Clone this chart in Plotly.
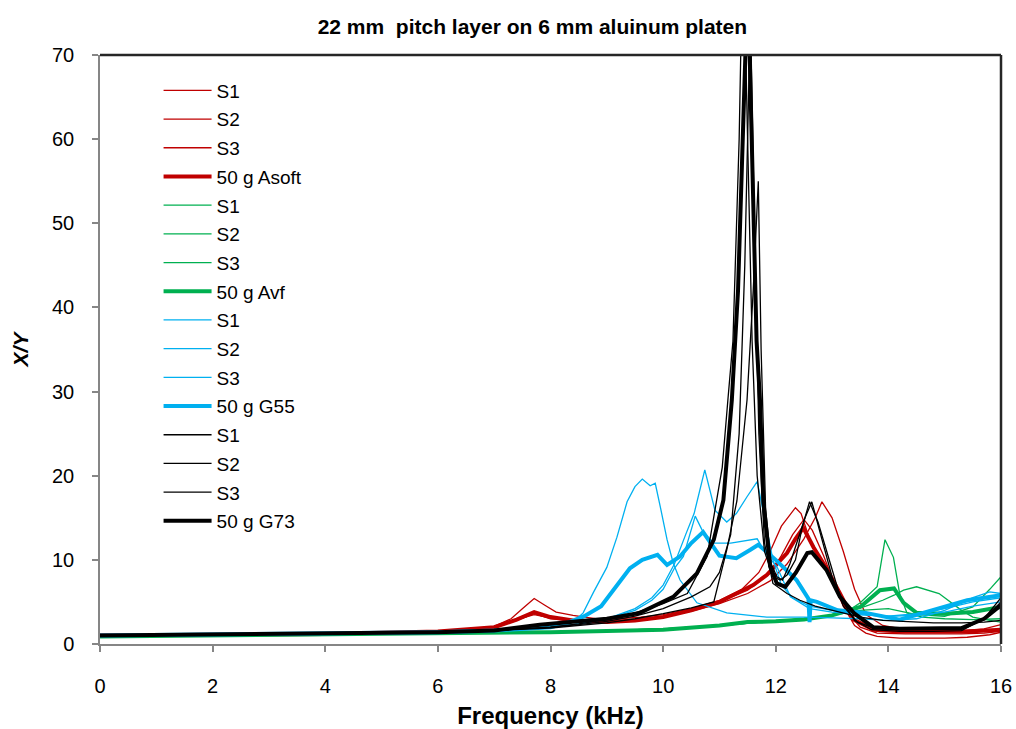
import plotly.graph_objects as go

# ---- Asoft (red) ----
asoft_s1_f = [0, 2, 4, 5, 6, 6.5, 7, 7.3, 7.5, 7.71, 7.9, 8.1, 8.4, 8.8, 9.2, 9.6, 10, 10.5, 11, 11.4, 11.7, 11.9, 12.1, 12.35, 12.45, 12.6, 12.8, 13.0, 13.2, 13.4, 13.6, 13.8, 14.2, 14.6, 15.0, 15.4, 15.8, 16]
asoft_s1_y = [1.0, 1.1, 1.2, 1.3, 1.5, 1.7, 2.1, 3.0, 4.2, 5.4, 4.6, 3.8, 3.4, 3.0, 3.0, 3.2, 3.5, 4.2, 5.2, 6.5, 8.5, 11.0, 14.0, 16.2, 15.5, 12.5, 10.0, 7.5, 4.5, 2.2, 1.3, 0.9, 0.7, 0.7, 0.7, 0.8, 1.1, 1.4]
asoft_s2_f = [0, 2, 4, 6, 6.5, 7, 7.4, 7.71, 8.0, 8.4, 9.0, 9.5, 10, 10.5, 11, 11.5, 11.9, 12.2, 12.5, 12.7, 12.82, 13.0, 13.2, 13.4, 13.6, 13.9, 14.3, 14.8, 15.3, 15.7, 16]
asoft_s2_y = [1.0, 1.1, 1.2, 1.5, 1.7, 2.0, 2.8, 3.6, 3.0, 2.8, 2.6, 2.8, 3.2, 3.9, 4.8, 6.0, 7.5, 9.5, 12.5, 15.0, 16.9, 15.0, 11.0, 6.5, 3.5, 2.2, 1.7, 1.6, 1.6, 1.8, 2.3]
asoft_s3_f = [0, 2, 4, 6, 6.5, 7, 7.4, 7.71, 8.0, 8.4, 9.0, 9.5, 10, 10.5, 11, 11.5, 11.9, 12.1, 12.3, 12.5, 12.65, 12.85, 13.05, 13.25, 13.5, 13.8, 14.3, 14.8, 15.3, 15.7, 16]
asoft_s3_y = [1.0, 1.1, 1.2, 1.5, 1.7, 2.0, 2.9, 3.5, 3.1, 2.8, 2.6, 2.8, 3.2, 4.0, 5.0, 6.4, 8.4, 10.5, 13.0, 14.8, 13.5, 10.5, 7.0, 4.0, 2.0, 1.3, 1.2, 1.2, 1.2, 1.3, 1.5]
asoft_avg_f = [0, 2, 4, 6, 6.5, 7, 7.4, 7.71, 8.0, 8.4, 9.0, 9.5, 10, 10.5, 11, 11.25, 11.6, 11.84, 12.0, 12.2, 12.35, 12.49, 12.67, 12.9, 13.14, 13.38, 13.74, 14.2, 14.8, 15.4, 16]
asoft_avg_y = [1.0, 1.1, 1.2, 1.5, 1.7, 2.0, 2.9, 3.8, 3.2, 2.8, 2.6, 2.8, 3.2, 4.0, 5.0, 5.8, 7.0, 8.2, 9.3, 10.8, 12.5, 13.8, 11.5, 9.0, 6.0, 2.9, 1.7, 1.5, 1.5, 1.5, 1.7]

# ---- Avf (green) ----
avf_s1_f = [0, 2, 4, 6, 7, 8, 9, 10, 11, 12, 12.5, 13, 13.3, 13.5, 13.8, 13.94, 14.09, 14.2, 14.33, 14.6, 15.0, 15.5, 16]
avf_s1_y = [0.9, 1.0, 1.1, 1.2, 1.3, 1.4, 1.6, 1.8, 2.2, 2.7, 3.0, 3.4, 4.0, 4.9, 6.8, 12.4, 10.3, 6.0, 3.7, 3.2, 3.0, 2.9, 3.0]
avf_s2_f = [0, 2, 4, 6, 7, 8, 9, 10, 11, 12, 12.5, 13, 13.3, 13.6, 13.9, 14.1, 14.27, 14.5, 14.9, 15.3, 15.5, 15.8, 16]
avf_s2_y = [0.9, 1.0, 1.1, 1.2, 1.3, 1.4, 1.6, 1.8, 2.2, 2.7, 3.0, 3.4, 3.9, 4.5, 5.2, 5.8, 6.4, 6.8, 6.0, 4.0, 3.2, 2.8, 2.6]
avf_s3_f = [0, 2, 4, 6, 7, 8, 9, 10, 11, 12, 12.5, 13, 13.5, 14.0, 14.5, 15.0, 15.5, 15.8, 16]
avf_s3_y = [0.9, 1.0, 1.1, 1.2, 1.3, 1.4, 1.6, 1.8, 2.2, 2.7, 3.0, 3.4, 4.0, 4.2, 3.5, 3.3, 4.4, 6.5, 8.0]
avf_avg_f = [0, 2, 4, 6, 7, 8, 9, 10, 11, 11.5, 12, 12.5, 13, 13.2, 13.5, 13.85, 14.1, 14.27, 14.5, 15.0, 15.5, 16]
avf_avg_y = [0.9, 1.0, 1.1, 1.2, 1.3, 1.4, 1.55, 1.7, 2.2, 2.6, 2.7, 2.9, 3.4, 3.8, 4.4, 6.4, 6.6, 4.9, 3.7, 3.6, 3.8, 4.4]

# ---- G55 (blue) ----
g55_s1_f = [0, 2, 4, 6, 7, 7.5, 8, 8.4, 8.58, 8.76, 9.0, 9.18, 9.36, 9.5, 9.63, 9.77, 9.86, 9.95, 10.07, 10.18, 10.3, 10.6, 11.13, 11.84, 12.5, 13.0, 13.5, 14.0, 14.5, 15.0, 15.5, 15.8, 16]
g55_s1_y = [1.0, 1.1, 1.2, 1.4, 1.6, 1.8, 2.1, 2.6, 3.7, 6.1, 9.1, 12.7, 16.9, 18.7, 19.6, 18.8, 19.1, 16.3, 12.4, 9.6, 7.6, 4.9, 3.7, 3.2, 3.2, 3.1, 3.0, 2.8, 3.0, 4.0, 5.5, 6.2, 6.0]
g55_s2_f = [0, 2, 4, 6, 7, 7.5, 8, 8.5, 9, 9.5, 9.8, 10.0, 10.2, 10.4, 10.55, 10.74, 10.92, 11.13, 11.3, 11.49, 11.67, 11.8, 11.95, 12.1, 12.3, 12.6, 13.0, 13.5, 14.0, 14.5, 15.0, 15.5, 16]
g55_s2_y = [1.0, 1.1, 1.2, 1.4, 1.6, 1.8, 2.0, 2.4, 3.0, 4.2, 5.5, 7.0, 9.5, 13.0, 15.5, 20.7, 15.9, 14.5, 15.5, 17.5, 19.3, 15.0, 10.0, 7.0, 5.5, 4.5, 4.0, 3.5, 3.3, 3.4, 3.8, 4.5, 5.0]
g55_s3_f = [0, 2, 4, 6, 7, 7.5, 8, 8.5, 9, 9.5, 9.8, 10.0, 10.2, 10.36, 10.57, 10.71, 10.9, 11.2, 11.55, 11.67, 11.85, 12.02, 12.26, 12.6, 13.0, 13.5, 14.0, 14.5, 15.0, 15.5, 16]
g55_s3_y = [1.0, 1.1, 1.2, 1.4, 1.6, 1.8, 2.0, 2.4, 3.0, 4.0, 5.2, 6.5, 9.0, 10.4, 15.2, 13.3, 12.0, 12.0, 12.4, 12.5, 10.5, 9.2, 5.6, 4.2, 3.8, 3.5, 3.3, 3.6, 4.2, 5.0, 5.5]
g55_avg_f = [0, 2, 4, 6, 7, 7.5, 8, 8.3, 8.6, 8.9, 9.24, 9.41, 9.63, 9.9, 10.07, 10.3, 10.5, 10.71, 11.0, 11.3, 11.55, 11.69, 12.0, 12.37, 12.58, 12.6, 12.62, 12.73, 13.1, 13.6, 14.2, 14.8, 15.4, 16]
g55_avg_y = [1.0, 1.1, 1.2, 1.4, 1.6, 1.8, 2.0, 2.5, 3.3, 4.5, 7.6, 9.0, 10.0, 10.6, 9.4, 10.4, 12.0, 13.3, 10.5, 10.2, 11.2, 11.8, 10.0, 7.6, 5.4, 2.6, 5.2, 5.0, 4.0, 3.7, 2.9, 4.0, 5.2, 5.8]

# ---- G73 (black) ----
g73_s1_f = [0, 2, 4, 6, 7, 8, 8.5, 9, 9.5, 10, 10.43, 10.78, 11.05, 11.15, 11.24, 11.35, 11.42, 11.5, 11.58, 11.67, 11.8, 11.95, 12.08, 12.2, 12.35, 12.47, 12.6, 12.75, 12.95, 13.15, 13.4, 13.7, 14.2, 14.8, 15.3, 15.7, 16]
g73_s1_y = [1.0, 1.1, 1.2, 1.4, 1.6, 2.0, 2.4, 2.9, 3.7, 4.8, 6.0, 10.4, 21.0, 29.0, 36.0, 60.0, 85.0, 60.0, 36.0, 20.0, 11.0, 8.0, 7.6, 8.2, 10.0, 13.9, 16.9, 14.5, 10.0, 5.5, 2.8, 1.7, 1.5, 1.5, 1.6, 3.0, 5.5]
g73_s2_f = [0, 2, 4, 6, 7, 8, 8.5, 9, 9.5, 10, 10.5, 10.83, 11.0, 11.2, 11.35, 11.45, 11.55, 11.62, 11.7, 11.8, 11.95, 12.2, 12.43, 12.7, 13.0, 13.5, 13.9, 14.4, 14.8, 15.3, 15.7, 16]
g73_s2_y = [1.0, 1.1, 1.2, 1.4, 1.6, 2.0, 2.3, 2.7, 3.3, 4.2, 5.6, 6.8, 8.5, 13.0, 25.0, 45.0, 75.0, 50.0, 25.0, 12.0, 7.2, 6.0, 5.2, 4.5, 4.0, 3.2, 2.8, 2.6, 2.5, 2.5, 2.6, 2.8]
g73_s3_f = [0, 2, 4, 6, 7, 8, 8.5, 9, 9.5, 10, 10.5, 10.9, 11.13, 11.31, 11.49, 11.6, 11.69, 11.74, 11.82, 11.92, 12.02, 12.12, 12.25, 12.4, 12.52, 12.64, 12.8, 13.0, 13.2, 13.45, 13.7, 14.2, 14.8, 15.3, 15.7, 16]
g73_s3_y = [1.0, 1.1, 1.2, 1.4, 1.6, 1.9, 2.2, 2.5, 3.0, 3.6, 4.3, 5.0, 11.2, 17.0, 29.0, 42.0, 55.0, 35.0, 16.0, 9.5, 8.0, 7.6, 9.5, 12.5, 15.0, 16.9, 13.0, 8.0, 4.5, 2.6, 2.0, 1.8, 1.8, 1.9, 3.0, 5.0]
g73_avg_f = [0, 2, 4, 6, 7, 7.81, 8.5, 9.0, 9.59, 10.18, 10.6, 10.9, 11.07, 11.22, 11.33, 11.4, 11.47, 11.53, 11.6, 11.66, 11.72, 11.78, 11.9, 12.02, 12.17, 12.36, 12.56, 12.64, 12.9, 13.14, 13.4, 13.73, 14.2, 14.8, 15.3, 15.7, 16]
g73_avg_y = [1.0, 1.1, 1.2, 1.4, 1.6, 2.3, 2.7, 3.0, 3.7, 5.6, 8.4, 12.4, 17.1, 29.0, 42.0, 55.0, 72.0, 72.0, 50.0, 36.0, 29.0, 17.0, 9.2, 7.2, 6.8, 8.5, 10.8, 10.9, 8.8, 5.6, 3.6, 2.0, 1.8, 1.8, 1.9, 3.0, 4.6]

RED, GREEN, BLUE, BLACK = "#C00000", "#00B050", "#00B0F0", "#000000"
THIN, THICK = 1.3, 4.0

series = [
    ("S1", asoft_s1_f, asoft_s1_y, RED, THIN),
    ("S2", asoft_s2_f, asoft_s2_y, RED, THIN),
    ("S3", asoft_s3_f, asoft_s3_y, RED, THIN),
    ("50 g Asoft", asoft_avg_f, asoft_avg_y, RED, THICK),
    ("S1", avf_s1_f, avf_s1_y, GREEN, THIN),
    ("S2", avf_s2_f, avf_s2_y, GREEN, THIN),
    ("S3", avf_s3_f, avf_s3_y, GREEN, THIN),
    ("50 g Avf", avf_avg_f, avf_avg_y, GREEN, THICK),
    ("S1", g55_s1_f, g55_s1_y, BLUE, THIN),
    ("S2", g55_s2_f, g55_s2_y, BLUE, THIN),
    ("S3", g55_s3_f, g55_s3_y, BLUE, THIN),
    ("50 g G55", g55_avg_f, g55_avg_y, BLUE, THICK),
    ("S1", g73_s1_f, g73_s1_y, BLACK, THIN),
    ("S2", g73_s2_f, g73_s2_y, BLACK, THIN),
    ("S3", g73_s3_f, g73_s3_y, BLACK, THIN),
    ("50 g G73", g73_avg_f, g73_avg_y, BLACK, THICK),
]

fig = go.Figure()
for i, (name, f, y, color, width) in enumerate(series):
    fig.add_trace(go.Scatter(
        x=f, y=y, mode="lines", name=name,
        legendgroup=f"g{i}",
        line=dict(color=color, width=width),
    ))

AXIS_GREY = "#868686"
FONT = "Liberation Sans, Arial, sans-serif"

fig.update_layout(
    width=1016, height=729,
    margin=dict(l=100, r=15, t=55, b=85, autoexpand=False),
    paper_bgcolor="white", plot_bgcolor="white",
    font=dict(family=FONT, size=20, color="black"),
    title=dict(
        text="<b>22 mm  pitch layer on 6 mm aluinum platen</b>",
        font=dict(family=FONT, size=21),
        x=0.524, xanchor="center", y=1 - 27 / 729, yanchor="middle", yref="container",
    ),
    legend=dict(
        x=0.065, y=0.972, xanchor="left", yanchor="top",
        bgcolor="rgba(0,0,0,0)", borderwidth=0,
        font=dict(family=FONT, size=19),
        tracegroupgap=1, itemwidth=48,
    ),
    showlegend=True,
)

fig.update_xaxes(
    range=[0, 16], dtick=2, tick0=0, automargin=False,
    showgrid=False, zeroline=False,
    showline=True, linecolor=AXIS_GREY, linewidth=1.5,
    ticks="outside", ticklen=6, tickwidth=1.5, tickcolor=AXIS_GREY,
    ticklabelstandoff=17,
    title=dict(text="<b>Frequency (kHz)</b>", font=dict(size=24), standoff=11),
)
fig.update_yaxes(
    range=[0, 70], dtick=10, tick0=0, automargin=False,
    showgrid=False, zeroline=False,
    showline=True, linecolor=AXIS_GREY, linewidth=1.5,
    ticks="outside", ticklen=6, tickwidth=1.5, tickcolor=AXIS_GREY,
    ticklabelstandoff=14,
    title=dict(text="<b><i>X/Y</i></b>", font=dict(size=21), standoff=18),
)

# dark frame on the top and right of the plotting area
fig.add_shape(type="line", xref="paper", yref="paper", x0=0, x1=1, y0=1, y1=1,
              line=dict(color="#262626", width=2.5))
fig.add_shape(type="line", xref="paper", yref="paper", x0=1, x1=1, y0=0, y1=1,
              line=dict(color="#262626", width=2.5))

fig.write_html("out.html")
